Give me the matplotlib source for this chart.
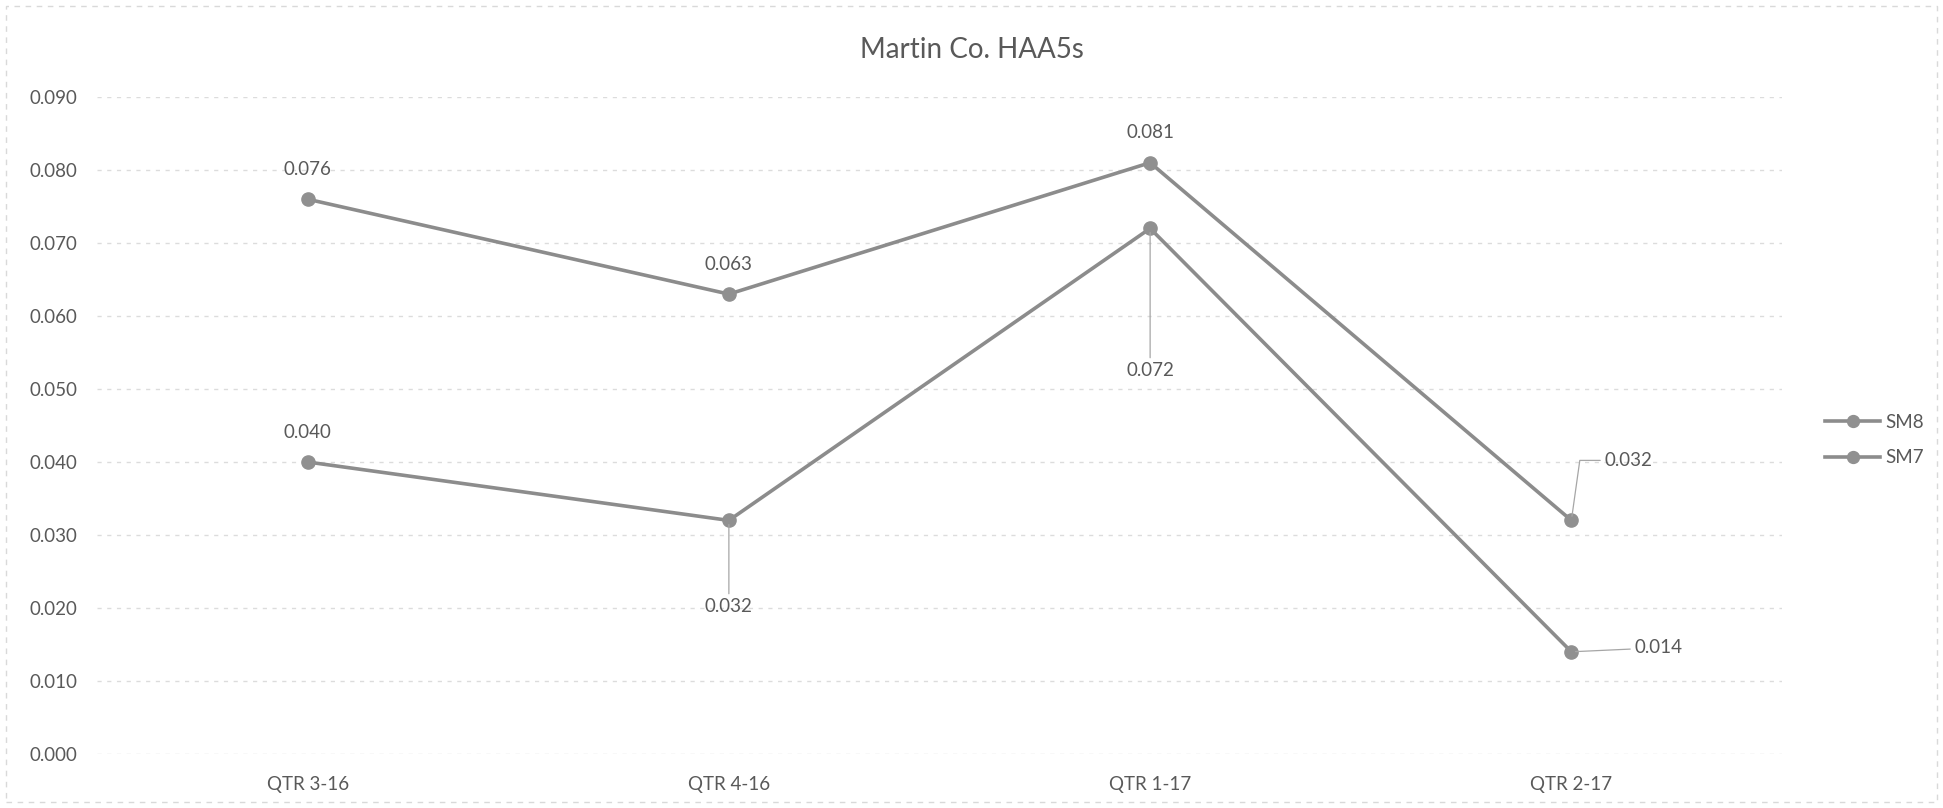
import matplotlib
matplotlib.use("Agg")
import matplotlib.pyplot as plt
from matplotlib.patches import Rectangle

categories = ["QTR 3-16", "QTR 4-16", "QTR 1-17", "QTR 2-17"]
sm8 = [0.076, 0.063, 0.081, 0.032]
sm7 = [0.040, 0.032, 0.072, 0.014]
yticks = [0.000, 0.010, 0.020, 0.030, 0.040, 0.050, 0.060, 0.070, 0.080, 0.090]
title = "Martin Co. HAA5s"

plt.rcParams['font.family'] = ['Lato', 'DejaVu Sans']
TXT = '#595959'
LINE = '#8c8c8c'

fig = plt.figure(figsize=(19.43, 8.08), dpi=100)
ax = fig.add_axes([97/1943, 54/808, (1782-97)/1943, (754-97)/808])

x = list(range(len(categories)))
l8, = ax.plot(x, sm8, color=LINE, lw=2.6, marker='o', ms=9.5, mfc='#909090', mec='#909090', label='SM8', zorder=3)
l7, = ax.plot(x, sm7, color=LINE, lw=2.6, marker='o', ms=9.5, mfc='#909090', mec='#909090', label='SM7', zorder=3)

ax.set_xlim(-0.5, len(categories) - 0.5)
ax.set_ylim(0, 0.09)
ax.set_yticks(yticks)
ax.set_yticklabels([f"{v:.3f}" for v in yticks])
ax.set_xticks(x)
ax.set_xticklabels(categories)
ax.tick_params(axis='both', length=0, labelsize=13.5, labelcolor=TXT)
ax.tick_params(axis='y', pad=14)
ax.tick_params(axis='x', pad=16)
for s in ax.spines.values():
    s.set_visible(False)
ax.grid(axis='y', color='#dcdcdc', lw=1.0, ls=(0, (3, 4)), zorder=0)
ax.set_axisbelow(True)

def lab(xi, yi, dx, dy, ha='center', va='center', leader=False, conn='arc3'):
    props = None
    if leader:
        props = dict(arrowstyle='-', color='#a6a6a6', lw=0.9, shrinkA=1, shrinkB=3,
                     connectionstyle=conn)
    ax.annotate(f"{yi:.3f}", (xi, yi), xytext=(dx, dy), textcoords='offset pixels',
                ha=ha, va=va, fontsize=13.5, color=TXT, arrowprops=props, zorder=4)

# SM8 labels
lab(0, sm8[0], 0, 30)
lab(1, sm8[1], 0, 30)
lab(2, sm8[2], 0, 30)
lab(3, sm8[3], 33, 60, ha='left', leader=True, conn='angle,angleA=0,angleB=82,rad=0')
# SM7 labels
lab(0, sm7[0], 0, 30)
lab(1, sm7[1], 0, -86, va='center', leader=True)
lab(2, sm7[2], 0, -142, va='center', leader=True)
lab(3, sm7[3], 63, 4, ha='left', leader=True)

fig.text(0.5, 1 - 50/808, title, ha='center', va='center', fontsize=20, color=TXT)

leg = fig.legend(handles=[l8, l7], loc='center left', bbox_to_anchor=(1816/1943, 1 - 440/808),
                 frameon=False, fontsize=13.5, handlelength=2.9, handletextpad=0.3,
                 labelspacing=1.0, borderpad=0, markerscale=0.9)
for t in leg.get_texts():
    t.set_color(TXT)

fig.patches.append(Rectangle((6/1943, 6/808), 1 - 12/1943, 1 - 12/808, transform=fig.transFigure,
                             fill=False, ec='#d9d9d9', lw=1.0, ls=(0, (4, 4))))

fig.savefig('out.png', dpi=100, facecolor='white')
